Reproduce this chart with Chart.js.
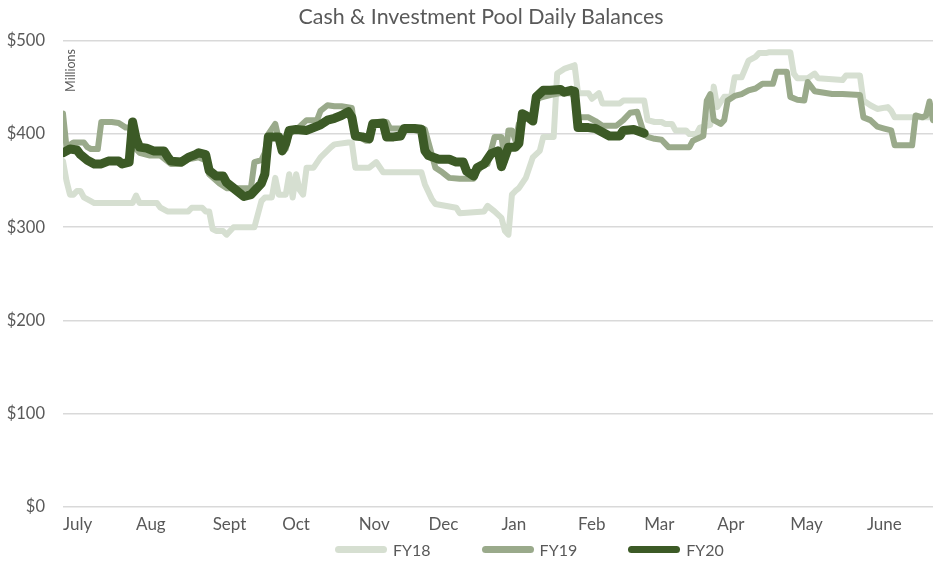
<!DOCTYPE html>
<html>
<head>
<meta charset="utf-8">
<script src="https://cdn.jsdelivr.net/npm/chart.js@4"></script>
<style>
    body { margin: 0; background: #fff; font-family: Lato, sans-serif; }
    #wrap { width: 933px; height: 561px; position: relative; }
    #title {
        position: absolute; left: 0; top: 3px; width: 962px; text-align: center;
        color: #595959; font-size: 21.4px; line-height: 26px;
    }
    #legend {
        position: absolute; left: 335px; top: 539px; height: 20px;
        display: flex; align-items: center;
        color: #595959; font-size: 16px;
    }
    .legend-item { display: flex; align-items: center; margin-right: 51px; }
    .legend-swatch { width: 52px; height: 7px; border-radius: 4px; margin-right: 6px; }
</style>
</head>
<body>
<div id="wrap">
    <canvas id="balanceChart"></canvas>
    <div id="title">Cash &amp; Investment Pool Daily Balances</div>
    <div id="legend"></div>
</div>
<script>
// business-day index where each month starts, and its label
const monthStarts = [0, 21, 43, 63, 85, 105, 126, 148, 167, 188, 209, 231];
const monthLabels = ['July', 'Aug', 'Sept', 'Oct', 'Nov', 'Dec', 'Jan', 'Feb', 'Mar', 'Apr', 'May', 'June'];
const yTicks = [0, 100, 200, 300, 400, 500];

// balances in $ millions (day index, value)
const fy18Days = [0, 1, 2, 3, 4, 5, 6, 8, 9, 20, 21, 22, 27, 28, 30, 36, 37, 40, 41, 42, 43, 44, 46, 47, 49, 55, 57, 58, 60, 61, 62, 64, 65, 66, 67, 68, 69, 70, 72, 74, 77, 78, 82, 83, 84, 88, 90, 92, 103, 104, 106, 107, 113, 114, 121, 122, 124, 126, 127, 128, 129, 130, 131, 133, 135, 137, 138, 141, 142, 144, 147, 148, 151, 152, 154, 155, 160, 161, 167, 168, 170, 172, 173, 175, 176, 179, 180, 182, 183, 186, 187, 188, 190, 192, 193, 195, 197, 199, 200, 202, 203, 209, 210, 211, 214, 216, 217, 224, 225, 229, 230, 232, 234, 237, 238, 239, 250];
const fy18Values = [371, 350, 335, 335, 339, 339, 332, 328, 326, 326, 334, 326, 326, 321, 317, 317, 321, 321, 317, 317, 298, 296, 296, 292, 300, 300, 328, 332, 332, 353, 335, 335, 357, 332, 357, 340, 335, 364, 364, 375, 386, 389, 391, 391, 364, 364, 370, 359, 359, 346, 330, 325, 321, 315, 317, 323, 317, 310, 296, 292, 335, 339, 342, 353, 375, 382, 397, 397, 465, 470, 474, 444, 444, 438, 444, 433, 433, 436, 436, 415, 413, 413, 411, 411, 404, 404, 400, 400, 407, 410, 451, 429, 440, 440, 461, 461, 479, 483, 487, 487, 488, 488, 465, 460, 460, 465, 460, 458, 463, 463, 436, 431, 427, 429, 425, 418, 418];

const fy19Days = [0, 1, 3, 6, 7, 8, 10, 11, 14, 16, 18, 19, 21, 22, 25, 28, 31, 34, 36, 39, 41, 42, 45, 47, 52, 54, 55, 57, 58, 59, 61, 62, 64, 65, 68, 70, 73, 74, 76, 78, 80, 83, 84, 87, 88, 89, 93, 94, 98, 100, 103, 104, 107, 109, 111, 114, 118, 119, 121, 122, 124, 126, 127, 128, 129, 130, 131, 133, 135, 136, 138, 140, 143, 146, 147, 148, 151, 153, 155, 159, 161, 163, 165, 167, 168, 170, 172, 174, 176, 180, 181, 184, 185, 186, 187, 189, 190, 191, 193, 195, 197, 199, 201, 204, 205, 208, 209, 211, 213, 214, 216, 221, 224, 229, 230, 232, 234, 236, 238, 239, 244, 245, 247, 248, 249, 250];
const fy19Values = [422, 386, 391, 391, 386, 384, 384, 413, 413, 412, 407, 407, 384, 380, 377, 377, 368, 368, 373, 375, 372, 357, 347, 342, 342, 342, 370, 372, 380, 400, 411, 395, 384, 400, 408, 415, 415, 425, 431, 430, 430, 428, 400, 393, 393, 413, 413, 406, 406, 407, 407, 405, 364, 359, 353, 352, 352, 360, 368, 368, 397, 397, 371, 404, 404, 393, 411, 420, 418, 438, 440, 442, 444, 444, 440, 418, 418, 414, 409, 409, 415, 423, 424, 400, 397, 395, 394, 386, 386, 386, 393, 398, 436, 443, 415, 411, 415, 436, 441, 443, 447, 449, 454, 454, 467, 467, 440, 437, 436, 456, 446, 443, 443, 442, 418, 415, 408, 406, 404, 388, 388, 420, 418, 420, 435, 415];

const fy20Days = [0, 2, 4, 5, 7, 9, 11, 13, 16, 17, 19, 20, 21, 22, 24, 26, 29, 30, 31, 34, 36, 38, 39, 41, 42, 44, 46, 47, 49, 51, 52, 54, 56, 57, 58, 59, 62, 63, 64, 65, 67, 70, 72, 74, 76, 78, 80, 82, 83, 84, 86, 88, 89, 92, 93, 95, 97, 98, 101, 103, 104, 105, 108, 111, 113, 115, 116, 118, 119, 121, 123, 125, 126, 128, 130, 131, 132, 133, 135, 136, 138, 140, 143, 144, 146, 147, 148, 151, 153, 155, 157, 160, 161, 164, 167];
const fy20Values = [380, 384, 383, 378, 372, 368, 368, 371, 371, 368, 370, 413, 395, 386, 385, 382, 382, 376, 371, 370, 375, 378, 380, 378, 361, 355, 355, 348, 342, 336, 333, 335, 343, 347, 357, 397, 397, 382, 390, 404, 405, 404, 407, 410, 415, 417, 420, 424, 418, 398, 397, 395, 411, 412, 397, 397, 398, 406, 406, 405, 382, 377, 373, 373, 370, 370, 360, 355, 364, 368, 379, 382, 365, 386, 386, 390, 422, 420, 414, 440, 447, 447, 448, 445, 447, 446, 407, 407, 406, 402, 398, 398, 404, 405, 401];

const seriesNames = ['FY18', 'FY19', 'FY20'];
const seriesColors = ['#d6dfd1', '#9aaa8b', '#3c5a26'];
const seriesWidths = [6, 6, 9];

function toPoints(days, values) {
    return days.map((d, i) => ({ x: d, y: values[i] }));
}

const textColor = '#595959';

// small plugin for the rotated "Millions" note
const millionsNote = {
    id: 'millionsNote',
    afterDraw(chart) {
        const ctx = chart.ctx;
        const area = chart.chartArea;
        ctx.save();
        ctx.translate(area.left + 8, area.top + 8);
        ctx.rotate(-Math.PI / 2);
        ctx.font = '12.5px Lato';
        ctx.fillStyle = textColor;
        ctx.textAlign = 'right';
        ctx.textBaseline = 'middle';
        ctx.fillText('Millions', 0, 0);
        ctx.restore();
    }
};

const allSeries = [
    toPoints(fy18Days, fy18Values),
    toPoints(fy19Days, fy19Values),
    toPoints(fy20Days, fy20Values)
];

const ctx = document.getElementById('balanceChart').getContext('2d');
const chart = new Chart(ctx, {
    type: 'line',
    data: {
        datasets: allSeries.map((pts, i) => ({
            label: seriesNames[i],
            data: pts,
            borderColor: seriesColors[i],
            backgroundColor: seriesColors[i],
            borderWidth: seriesWidths[i],
            borderJoinStyle: 'round',
            borderCapStyle: 'round',
            pointRadius: 0,
            tension: 0,
            order: 2 - i
        }))
    },
    options: {
        responsive: true,
        maintainAspectRatio: false,
        animation: false,
        layout: { padding: { left: 0, right: 0, top: 41, bottom: 26 } },
        plugins: {
            title: { display: false },
            legend: { display: false },
            tooltip: { enabled: false }
        },
        scales: {
            x: {
                type: 'linear',
                min: 0,
                max: 250,
                grid: { display: false },
                border: { display: false },
                afterBuildTicks: function(scale) {
                    scale.ticks = monthStarts.map(v => ({ value: v }));
                },
                ticks: {
                    align: 'start',
                    maxRotation: 0,
                    autoSkip: false,
                    color: textColor,
                    font: { family: 'Lato', size: 17 },
                    padding: 0,
                    callback: function(value) {
                        const idx = monthStarts.indexOf(value);
                        return idx >= 0 ? monthLabels[idx] : '';
                    }
                }
            },
            y: {
                min: 0,
                max: 500,
                afterBuildTicks: function(scale) {
                    scale.ticks = yTicks.map(v => ({ value: v }));
                },
                afterFit: function(scale) {
                    scale.width = 63;
                },
                grid: {
                    color: '#d9d9d9',
                    lineWidth: 1.5,
                    drawTicks: false
                },
                border: { display: false },
                ticks: {
                    color: textColor,
                    font: { family: 'Lato', size: 16.5 },
                    padding: 18,
                    callback: v => '$' + v
                }
            }
        }
    },
    plugins: [millionsNote]
});

// legend built from the datasets
document.getElementById('legend').innerHTML = chart.data.datasets.map(ds => `
    <div class="legend-item">
        <span class="legend-swatch" style="background:${ds.borderColor}"></span>
        <span>${ds.label}</span>
    </div>
`).join('');
</script>
</body>
</html>
